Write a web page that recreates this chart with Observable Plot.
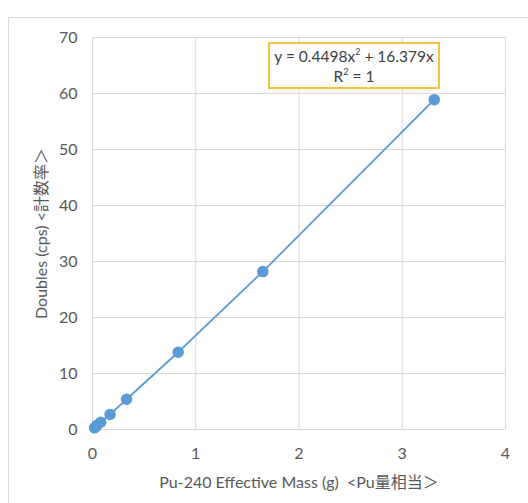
<!DOCTYPE html>
<html>
<head>
<meta charset="utf-8">
<script src="https://cdn.jsdelivr.net/npm/d3@7"></script>
<script src="https://cdn.jsdelivr.net/npm/@observablehq/plot@0.6"></script>
<style>
  html, body { margin: 0; padding: 0; background: #fff; }
  #wrap { position: relative; width: 528px; height: 503px; overflow: hidden; font-family: Lato, "Noto Sans CJK JP", sans-serif; }
  #frame { position: absolute; left: 8px; top: 17px; width: 560px; height: 540px; border: 1px solid #d9d9d9; box-sizing: border-box; }
  #chart { position: absolute; left: 0; top: 0; }
  #eq { position: absolute; left: 268px; top: 42px; width: 172px; height: 47px; box-sizing: border-box; border: 2px solid #f5c242; background: #fff; color: #404040; font-size: 15.5px; text-align: center; line-height: 20px; padding-top: 2px; white-space: nowrap; }
</style>
</head>
<body>
<div id="wrap">
  <div id="frame"></div>
  <div id="chart"></div>
  <div id="eq">y = 0.4498x<sup style="font-size:9px;vertical-align:7px;line-height:0">2</sup> + 16.379x<br>R<sup style="font-size:9px;vertical-align:7px;line-height:0">2</sup> = 1</div>
</div>
<script>
const massG = [0.02, 0.04, 0.08, 0.17, 0.33, 0.83, 1.65, 3.31];
const doublesCps = [0.3, 0.7, 1.3, 2.7, 5.4, 13.8, 28.2, 58.9];
const xTicks = [0, 1, 2, 3, 4];
const yTicks = [0, 10, 20, 30, 40, 50, 60, 70];
const xTitle = "Pu-240 Effective Mass (g)  <Pu量相当＞";
const yTitle = "Doubles (cps) <計数率＞";

const data = massG.map((m, i) => ({x: m, y: doublesCps[i]}));

const chart = Plot.plot({
  width: 528,
  height: 503,
  marginLeft: 92,
  marginRight: 23,
  marginTop: 37,
  marginBottom: 74,
  style: {fontFamily: 'Lato, "Noto Sans CJK JP", sans-serif', fontSize: "16px", color: "#595959", background: "transparent"},
  x: {domain: [0, 4], ticks: xTicks, tickSize: 0, tickPadding: 18, label: xTitle, labelArrow: "none", labelAnchor: "center", labelOffset: 58, tickFormat: d3.format("d")},
  y: {domain: [0, 70], ticks: yTicks, tickSize: 0, tickPadding: 15, label: yTitle, labelArrow: "none", labelAnchor: "center", labelOffset: 57, tickFormat: d3.format("d")},
  marks: [
    Plot.gridX(xTicks, {stroke: "#d9d9d9", strokeOpacity: 1}),
    Plot.gridY(yTicks, {stroke: "#d9d9d9", strokeOpacity: 1}),
    Plot.line(data, {x: "x", y: "y", stroke: "#5b9bd5", strokeWidth: 1.8}),
    Plot.dot(data, {x: "x", y: "y", r: 5, fill: "#5b9bd5", stroke: "#5b9bd5"})
  ]
});
document.getElementById("chart").appendChild(chart);
</script>
</body>
</html>
